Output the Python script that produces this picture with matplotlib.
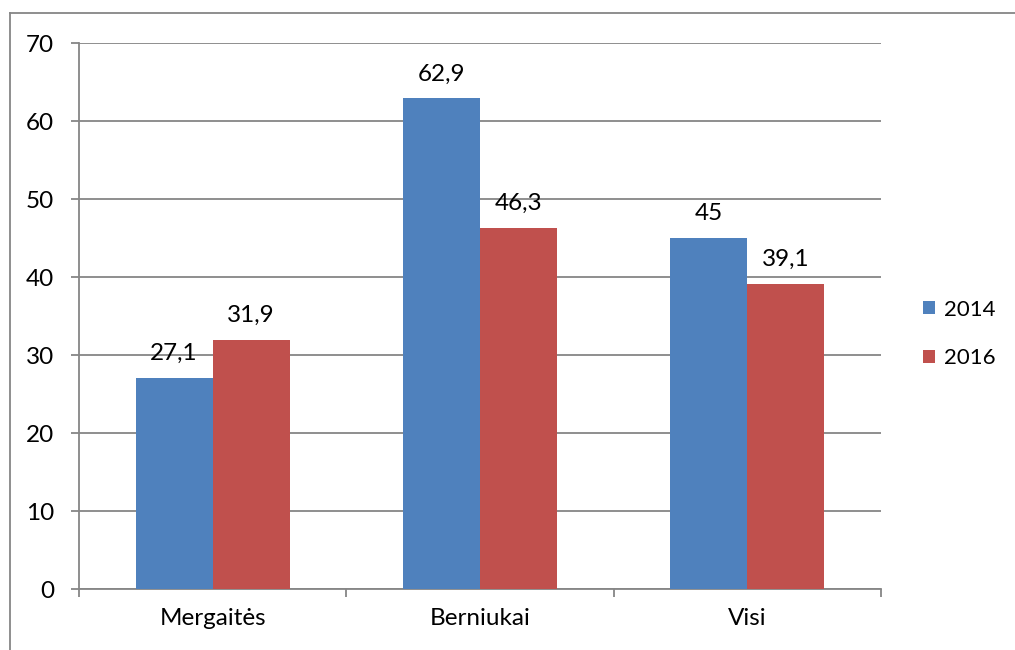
import matplotlib.pyplot as plt
import numpy as np
from matplotlib.lines import Line2D

categories = ['Mergaitės', 'Berniukai', 'Visi']
years = ['2014', '2016']
vals_2014 = [27.1, 62.9, 45]
vals_2016 = [31.9, 46.3, 39.1]
yticks = [0, 10, 20, 30, 40, 50, 60, 70]

blue = '#4F81BD'
red = '#C0504D'
grey = '#868686'
fs = 17.5

plt.rcParams['font.family'] = ['Lato', 'DejaVu Sans']

fig = plt.figure(figsize=(10.15, 6.5), dpi=100)
W, H = 1015, 650
ax = fig.add_axes([79 / W, 1 - 589 / H, (881 - 79) / W, (589 - 43) / H])

x = np.arange(len(categories))
w = 0.288
b1 = ax.bar(x - w / 2, vals_2014, w, color=blue, label=years[0], zorder=3)
b2 = ax.bar(x + w / 2, vals_2016, w, color=red, label=years[1], zorder=3)

def fmt(v):
    s = ('%g' % v).replace('.', ',')
    return s

for bars, vals in ((b1, vals_2014), (b2, vals_2016)):
    for r, v in zip(bars, vals):
        ax.annotate(fmt(v), (r.get_x() + r.get_width() / 2, v), xytext=(0, 10),
                    textcoords='offset points', ha='center', va='bottom',
                    fontsize=fs, color='black')

ax.set_xlim(-0.5, 2.5)
ax.set_ylim(0, 70)
ax.set_yticks(yticks)
ax.set_yticklabels([str(t) for t in yticks], fontsize=fs)
ax.yaxis.grid(True, color=grey, linewidth=1.3, zorder=0)
ax.set_axisbelow(True)

# categories ticks at boundaries, labels at centres
ax.set_xticks([-0.5, 0.5, 1.5, 2.5])
ax.set_xticklabels([])
ax.set_xticks(x, minor=True)
ax.set_xticklabels(categories, minor=True, fontsize=fs)
ax.tick_params(axis='x', which='major', length=6, width=1.3, color=grey)
ax.tick_params(axis='x', which='minor', length=0, pad=14)
ax.tick_params(axis='y', length=6, width=1.3, color=grey, pad=12)

for s in ['top', 'right']:
    ax.spines[s].set_visible(False)
for s in ['left', 'bottom']:
    ax.spines[s].set_color(grey)
    ax.spines[s].set_linewidth(1.3)

leg = fig.legend(handles=[b1, b2], labels=years, loc='center left',
                 bbox_to_anchor=(912 / W, 1 - 334 / H), frameon=False,
                 fontsize=16, handlelength=0.55, handleheight=0.55,
                 handletextpad=0.4, labelspacing=1.3, borderpad=0)

# outer chart border (left and top visible)
fig.add_artist(Line2D([10 / W, 10 / W], [0, 1 - 13 / H], color=grey, lw=1.3,
                      transform=fig.transFigure))
fig.add_artist(Line2D([10 / W, 1], [1 - 13 / H, 1 - 13 / H], color=grey, lw=1.3,
                      transform=fig.transFigure))

fig.savefig('out.png', dpi=100)
